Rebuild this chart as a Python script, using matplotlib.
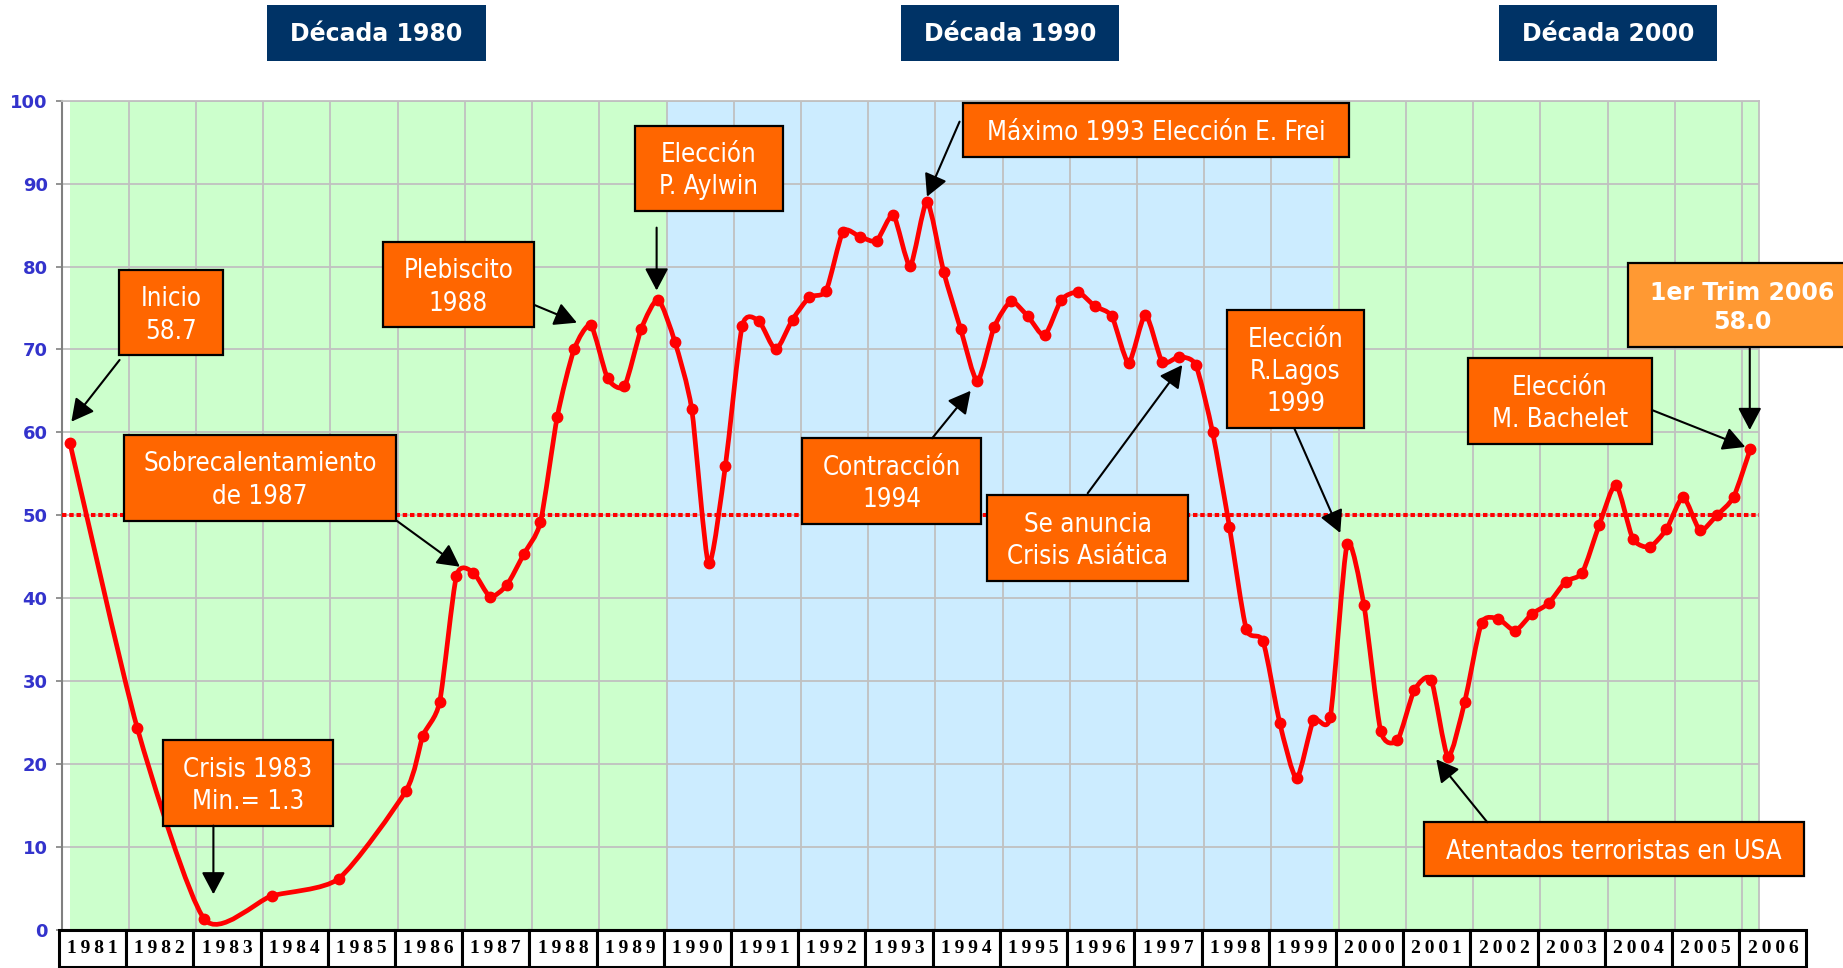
import numpy as np
import matplotlib
matplotlib.use('Agg')
import matplotlib.pyplot as plt
from matplotlib.path import Path
from matplotlib.patches import PathPatch, Rectangle

# Indice trimestral (año-trimestre) y valores
trimestres = ['1981-1', '1982-1', '1983-1', '1984-1', '1985-1',
              '1986-1', '1986-2', '1986-3', '1986-4',
              '1987-1', '1987-2', '1987-3', '1987-4',
              '1988-1', '1988-2', '1988-3', '1988-4',
              '1989-1', '1989-2', '1989-3', '1989-4',
              '1990-1', '1990-2', '1990-3', '1990-4',
              '1991-1', '1991-2', '1991-3', '1991-4',
              '1992-1', '1992-2', '1992-3', '1992-4',
              '1993-1', '1993-2', '1993-3', '1993-4',
              '1994-1', '1994-2', '1994-3', '1994-4',
              '1995-1', '1995-2', '1995-3', '1995-4',
              '1996-1', '1996-2', '1996-3', '1996-4',
              '1997-1', '1997-2', '1997-3', '1997-4',
              '1998-1', '1998-2', '1998-3', '1998-4',
              '1999-1', '1999-2', '1999-3', '1999-4',
              '2000-1', '2000-2', '2000-3', '2000-4',
              '2001-1', '2001-2', '2001-3', '2001-4',
              '2002-1', '2002-2', '2002-3', '2002-4',
              '2003-1', '2003-2', '2003-3', '2003-4',
              '2004-1', '2004-2', '2004-3', '2004-4',
              '2005-1', '2005-2', '2005-3', '2005-4',
              '2006-1']
indice = [58.7, 24.4, 1.3, 4.1, 6.2,
          16.8, 23.4, 27.5, 42.7,
          43.1, 40.2, 41.6, 45.3,
          49.2, 61.9, 70.0, 72.9,
          66.5, 65.6, 72.5, 76.0,
          70.9, 62.8, 44.2, 55.9,
          72.8, 73.4, 70.0, 73.6,
          76.3, 77.1, 84.2, 83.6,
          83.1, 86.2, 80.1, 87.8,
          79.3, 72.5, 66.2, 72.7,
          75.8, 74.0, 71.7, 76.0,
          76.9, 75.2, 74.0, 68.4,
          74.2, 68.5, 69.1, 68.1,
          60.0, 48.6, 36.3, 34.8,
          24.9, 18.3, 25.3, 25.7,
          46.5, 39.2, 24.0, 22.9,
          28.9, 30.2, 20.9, 27.5,
          37.0, 37.5, 36.1, 38.1,
          39.4, 42.0, 43.1, 48.8,
          53.7, 47.2, 46.2, 48.3,
          52.2, 48.2, 50.0, 52.2,
          58.0]

anios = list(range(1981, 2007))
decadas = ['Década 1980', 'Década 1990', 'Década 2000']

# posicion de cada trimestre en el eje (centro del trimestre)
t = np.array([int(s[:4]) + (int(s[5]) - 0.5) / 4 for s in trimestres])
v = np.array(indice)


def curva_suave(x, y, k=9.0):
    # linea suavizada tipo Excel (Bezier por Catmull-Rom)
    p = np.column_stack([x, y])
    ext = np.vstack([p[0], p, p[-1]])
    verts = [p[0]]
    codes = [Path.MOVETO]
    for i in range(len(p) - 1):
        c1 = p[i] + (ext[i + 2] - ext[i]) / k
        c2 = p[i + 1] - (ext[i + 3] - ext[i + 1]) / k
        verts += [c1, c2, p[i + 1]]
        codes += [Path.CURVE4] * 3
    return Path(verts, codes)


fig = plt.figure(figsize=(18.43, 9.68), dpi=100)
ax = fig.add_axes([0.0334, 0.0393, 0.9209, 0.8567])
ax.set_xlim(1981, 2006.25)
ax.set_ylim(0, 100)

# fondos por decada
ax.axvspan(1981.125, 1990, color='#CCFFCC', zorder=0, lw=0)
ax.axvspan(1990, 1999.92, color='#CCECFF', zorder=0, lw=0)
ax.axvspan(1999.92, 2006.25, color='#CCFFCC', zorder=0, lw=0)

ax.set_xticks(anios)
ax.set_yticks(range(0, 101, 10))
ax.grid(True, color='#C0C0C0', lw=1.3, zorder=1)
ax.set_axisbelow(True)
ax.tick_params(axis='x', length=0, labelbottom=False)
ax.tick_params(axis='y', length=4, width=1.2, color='#808080', pad=6,
               labelcolor='#3333CC', labelsize=13)
for lab in ax.get_yticklabels():
    lab.set_fontweight('bold')
for s in ['left', 'bottom']:
    ax.spines[s].set_color('#808080')
    ax.spines[s].set_linewidth(1.5)
for s in ['top', 'right']:
    ax.spines[s].set_color('#C0C0C0')
    ax.spines[s].set_linewidth(1.3)

# linea de 50 puntos
ax.axhline(50, color='red', lw=2.9, ls=(0, (1.1, 0.7)), zorder=3)

# serie
ax.add_patch(PathPatch(curva_suave(t, v), fill=False, edgecolor='red',
                       lw=3.4, zorder=4, capstyle='round', joinstyle='round'))
ax.plot(t, v, 'o', color='red', ms=7.5, zorder=5)

# etiquetas de años en cajas
trans = ax.get_xaxis_transform()
for a in anios:
    ax.add_patch(Rectangle((a - 0.04, -0.0441), 1.0, 0.0436, transform=trans,
                           facecolor='white', edgecolor='black', lw=2.2,
                           clip_on=False, zorder=6))
    ax.text(a + 0.46, -0.0225, '\u2009'.join(str(a)), transform=trans,
            ha='center', va='center', fontsize=14, fontweight='bold',
            family=['Liberation Serif', 'DejaVu Serif'], clip_on=False, zorder=7)

# encabezados de decadas
for nombre, x0 in zip(decadas, [1984.061, 1993.482, 2002.384]):
    ax.add_patch(Rectangle((x0, 104.82), 3.25, 6.72, facecolor='#003366',
                           edgecolor='none', clip_on=False, zorder=6))
    ax.text(x0 + 1.625, 108.0, nombre, ha='center', va='center', color='white',
            fontsize=17, fontweight='bold', clip_on=False, zorder=7)

# cuadros de anotacion: texto, (x0, x1, y0, y1), inicio flecha, punta flecha
notas = [
    ('Inicio\n58.7', (1981.854, 1983.402, 69.34, 79.59), (1981.863, 68.73), (1981.146, 61.29)),
    ('Sobrecalentamiento\nde 1987', (1981.924, 1985.982, 49.37, 59.69), (1985.982, 49.37), (1986.926, 43.80)),
    ('Crisis 1983\nMin.= 1.3', (1982.515, 1985.033, 12.58, 22.91), (1983.259, 12.58), (1983.259, 4.30)),
    ('Plebiscito\n1988', (1985.783, 1988.022, 72.68, 83.0), (1988.036, 75.36), (1988.667, 73.23)),
    ('Elección\nP. Aylwin', (1989.530, 1991.729, 86.69, 96.98), (1989.853, 84.69), (1989.853, 77.11)),
    ('Máximo 1993 Elección E. Frei', (1994.406, 2000.153, 93.17, 99.69), (1994.360, 97.47), (1993.875, 88.42)),
    ('Contracción\n1994', (1992.015, 1994.685, 48.95, 59.29), (1993.952, 59.29), (1994.525, 65.02)),
    ('Se anuncia\nCrisis Asiática', (1994.771, 1997.762, 42.08, 52.45), (1996.266, 52.66), (1997.673, 68.13)),
    ('Elección\nR.Lagos\n1999', (1998.342, 2000.372, 60.50, 74.76), (1999.339, 60.50), (2000.024, 47.87)),
    ('Elección\nM. Bachelet', (2001.917, 2004.659, 58.60, 68.93), (2004.659, 62.70), (2006.05, 58.24)),
    ('1er Trim 2006\n58.0', (2004.299, 2007.713, 70.25, 80.46), (2006.116, 70.25), (2006.116, 60.29)),
    ('Atentados terroristas en USA', (2001.268, 2006.926, 6.54, 12.99), (2002.211, 12.99), (2001.452, 20.58)),
]

for texto, (x0, x1, y0, y1), ini, punta in notas:
    destacado = texto.startswith('1er')
    ax.add_patch(Rectangle((x0, y0), x1 - x0, y1 - y0,
                           facecolor='#FF9933' if destacado else '#FF6600',
                           edgecolor='black', lw=1.6, clip_on=False, zorder=8))
    if destacado:
        ax.text((x0 + x1) / 2, (y0 + y1) / 2 - 0.3, texto, ha='center', va='center',
                color='white', fontsize=17, fontweight='bold', linespacing=1.3,
                clip_on=False, zorder=9)
    else:
        ax.text((x0 + x1) / 2, (y0 + y1) / 2 - 0.35, texto, ha='center', va='center',
                color='white', fontsize=18.5, fontstretch='condensed',
                linespacing=1.32, clip_on=False, zorder=9)
    ax.annotate('', xy=punta, xytext=ini, annotation_clip=False, zorder=9,
                arrowprops=dict(arrowstyle='-|>,head_length=0.68,head_width=0.36',
                                color='black', lw=1.5, mutation_scale=20,
                                shrinkA=0, shrinkB=0))

fig.savefig('out.png', dpi=100)
